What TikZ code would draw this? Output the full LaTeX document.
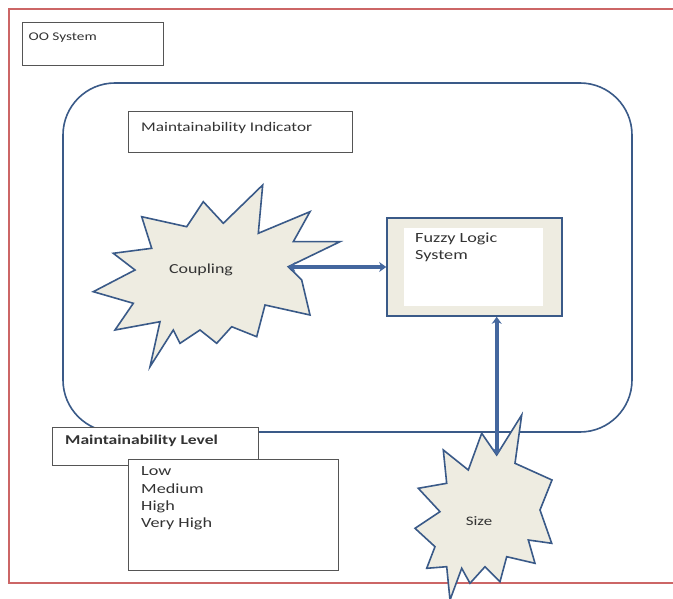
\documentclass[tikz,border=0pt]{standalone}
\usepackage{fontspec}
\setmainfont{Carlito}[FakeStretch=1.3]
\usetikzlibrary{arrows.meta}
\definecolor{frame}{HTML}{CC6666}
\definecolor{navy}{HTML}{3A5A88}
\definecolor{arrowc}{HTML}{44679E}
\definecolor{beige}{HTML}{EEECE1}
\definecolor{boxline}{HTML}{555555}
\tikzset{
  greybox/.style={draw=boxline, line width=1pt, fill=white, inner sep=0pt},
  lbl/.style={anchor=base west, inner sep=0pt, text=black!80},
  burst/.style={draw=navy, line width=1.6pt, fill=beige, line join=miter},
  conn/.style={draw=arrowc, line width=4pt, {Stealth[length=7pt,width=10pt]}-{Stealth[length=7pt,width=10pt]}}
}
\begin{document}
\begin{tikzpicture}[x=1pt,y=-1pt]
\useasboundingbox (0,0) rectangle (673,599);
\fill[white] (0,0) rectangle (673,599);
% outer red frame (right edge outside picture)
\draw[frame, line width=2pt] (690,9) -- (9,9) -- (9,583) -- (690,583);
% OO system box
\node[greybox, minimum width=141pt, minimum height=43pt] (oo) at (92.5,44.5) {};
\node[lbl, font=\fontsize{11.8}{12}\selectfont] (ootxt) at (28.5,40.5) {OO System};
% rounded container
\draw[navy, line width=1.6pt, rounded corners=52pt] (63,83) rectangle (632,432);
% Maintainability indicator
\node[greybox, minimum width=224pt, minimum height=41pt] (mi) at (240,132.5) {};
\node[lbl, font=\fontsize{13.2}{14}\selectfont] (mitxt) at (141,131.5) {Maintainability Indicator};
% Fuzzy logic system
\node[draw=navy, line width=1.6pt, fill=beige, minimum width=175pt, minimum height=98pt, inner sep=0pt] (fz) at (474.5,267) {};
\node[fill=white, minimum width=139pt, minimum height=78pt, inner sep=0pt] (fzin) at (473.5,267) {};
\node[lbl, font=\fontsize{14}{12}\selectfont] (fztxt1) at (415,243) {Fuzzy Logic};
\node[lbl, font=\fontsize{14}{12}\selectfont] (fztxt2) at (415,260) {System};
% Coupling burst
\draw[burst] (262.7,185) -- (258.3,233.3) -- (310,211.7) -- (293.3,241.7) -- (340,241.7)
  -- (288.3,266.7) -- (301.7,280) -- (310,315) -- (265,305) -- (256.7,336.7)
  -- (231.7,326.7) -- (216.7,343.3) -- (200,330) -- (180,343.3) -- (173.3,330)
  -- (150,366.7) -- (160,321.7) -- (115,330) -- (133.3,303.3) -- (93.3,291.7)
  -- (135,270) -- (113.3,253.3) -- (151.7,248.3) -- (141.7,216.7) -- (186.7,226.7)
  -- (203.3,201.7) -- (223.3,223.3) -- cycle;
\coordinate (cpl) at (288.3,267);
\node[font=\fontsize{13.8}{14}\selectfont, text=black!80] (cpltxt) at (201,270) {Coupling};
% Size burst
\draw[burst] (521.7,415) -- (515,463.3) -- (552,480) -- (540,510) -- (551.7,543.3)
  -- (528.3,540) -- (535,563.3) -- (506.7,556.7) -- (500,581.7) -- (485,566.7)
  -- (470,583.3) -- (461.7,568.3) -- (450,600) -- (446.7,566.7) -- (426.7,568.3)
  -- (435,546.7) -- (415,528.3) -- (440,511.7) -- (418.3,488.3) -- (446.7,483.3)
  -- (443.3,450) -- (468.3,470) -- (481.7,433.3) -- (496.7,455) -- cycle;
\coordinate (sz) at (496.7,455);
\node[font=\fontsize{13}{13}\selectfont, text=black!80] (sztxt) at (479,521) {Size};
% Maintainability level boxes
\node[greybox, minimum width=206pt, minimum height=38pt] (ml) at (155,446) {};
\node[lbl, font=\fontsize{13.5}{14}\selectfont\bfseries] (mltxt) at (65,444) {Maintainability Level};
\node[greybox, minimum width=210pt, minimum height=111pt] (vals) at (233,514.5) {};
\node[lbl, font=\fontsize{14}{14}\selectfont] (v1) at (141,475) {Low};
\node[lbl, font=\fontsize{14}{14}\selectfont] (v2) at (141,493) {Medium};
\node[lbl, font=\fontsize{14}{14}\selectfont] (v3) at (141,510) {High};
\node[lbl, font=\fontsize{14}{14}\selectfont] (v4) at (141,527) {Very High};
% connectors
\draw[conn] (cpl) -- (fz.west |- cpl);
\draw[conn] (sz |- fz.south) -- (sz);
\end{tikzpicture}
\end{document}
